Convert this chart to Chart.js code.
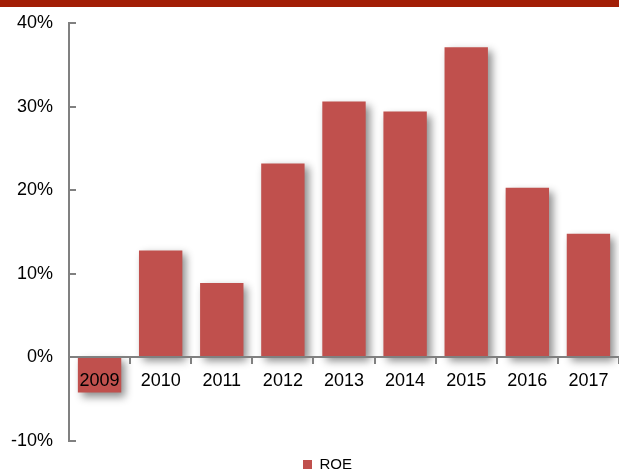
<!DOCTYPE html>
<html>
<head>
<meta charset="utf-8">
<script src="https://cdn.jsdelivr.net/npm/chart.js@4/dist/chart.umd.min.js"></script>
<style>
  html, body { margin: 0; padding: 0; background: #fff; }
  #wrap { width: 619px; height: 475px; }
</style>
</head>
<body>
<div id="wrap"><canvas id="roeChart" width="619" height="475"></canvas></div>
<script>
const years = ["2009", "2010", "2011", "2012", "2013", "2014", "2015", "2016", "2017"];
const roeValues = [-4.2, 12.8, 8.9, 23.2, 30.6, 29.4, 37.1, 20.3, 14.8];
const yTicks = [-10, 0, 10, 20, 30, 40];

const FONT = "'Liberation Sans', Arial, sans-serif";
const AXIS_GRAY = "#808080";

// Red band across the top of the slide
const topBand = {
  id: "topBand",
  beforeDraw(chart) {
    const ctx = chart.ctx;
    ctx.save();
    ctx.fillStyle = "#A21E06";
    ctx.fillRect(0, 0, chart.width, 7);
    ctx.restore();
  },
};

// Soft drop shadow under the bars
const barShadow = {
  id: "barShadow",
  beforeDatasetsDraw(chart) {
    const ctx = chart.ctx;
    ctx.save();
    ctx.shadowColor = "rgba(0, 0, 0, 0.45)";
    ctx.shadowBlur = 8;
    ctx.shadowOffsetX = 4;
    ctx.shadowOffsetY = 4;
  },
  afterDatasetsDraw(chart) {
    chart.ctx.restore();
  },
};

// Short tick marks on the inner side of the value axis
const innerTicks = {
  id: "innerTicks",
  afterDraw(chart) {
    const y = chart.scales.y;
    const ctx = chart.ctx;
    ctx.save();
    ctx.strokeStyle = AXIS_GRAY;
    ctx.lineWidth = 2;
    y.ticks.forEach((t) => {
      const py = Math.round(y.getPixelForValue(t.value));
      ctx.beginPath();
      ctx.moveTo(y.right, py);
      ctx.lineTo(y.right + 7, py);
      ctx.stroke();
    });
    ctx.restore();
  },
};

// Move the legend a bit right and down, closer to the bottom edge
const legendNudge = {
  id: "legendNudge",
  afterLayout(chart) {
    const lg = chart.legend;
    if (lg) {
      lg.left += 18;
      lg.right += 18;
      lg.top += 14;
      lg.bottom += 14;
    }
  },
};

new Chart(document.getElementById("roeChart").getContext("2d"), {
  type: "bar",
  data: {
    labels: years,
    datasets: [
      {
        label: "ROE",
        data: roeValues,
        backgroundColor: "#C0504D",
        borderWidth: 0,
        categoryPercentage: 1,
        barPercentage: 0.71,
      },
    ],
  },
  options: {
    responsive: false,
    animation: false,
    layout: { padding: { top: 23, right: 0, bottom: 7, left: 0 } },
    plugins: {
      legend: {
        display: true,
        position: "bottom",
        labels: {
          boxWidth: 9,
          boxHeight: 9,
          padding: 2,
          color: "#000",
          font: { family: FONT, size: 15 },
        },
      },
      tooltip: { enabled: false },
    },
    scales: {
      x: {
        position: { y: 0 },
        border: { display: true, color: AXIS_GRAY, width: 2, z: 1 },
        grid: {
          display: true,
          drawOnChartArea: false,
          drawTicks: true,
          tickLength: 6,
          color: AXIS_GRAY,
          lineWidth: 2,
          offset: true,
          z: 1,
        },
        ticks: {
          z: 1,
          color: "#000",
          padding: 7,
          font: { family: FONT, size: 18 },
          maxRotation: 0,
        },
      },
      y: {
        min: -10,
        max: 40,
        afterFit(scale) {
          scale.width = 69;
          scale.paddingTop = 0;
          scale.paddingBottom = 0;
        },
        afterBuildTicks(scale) {
          scale.ticks = yTicks.map((v) => ({ value: v }));
        },
        border: { display: true, color: AXIS_GRAY, width: 2 },
        grid: { display: false, drawTicks: false },
        ticks: {
          color: "#000",
          padding: 16,
          font: { family: FONT, size: 18 },
          callback: (v) => v + "%",
        },
      },
    },
  },
  plugins: [topBand, barShadow, innerTicks, legendNudge],
});
</script>
</body>
</html>
